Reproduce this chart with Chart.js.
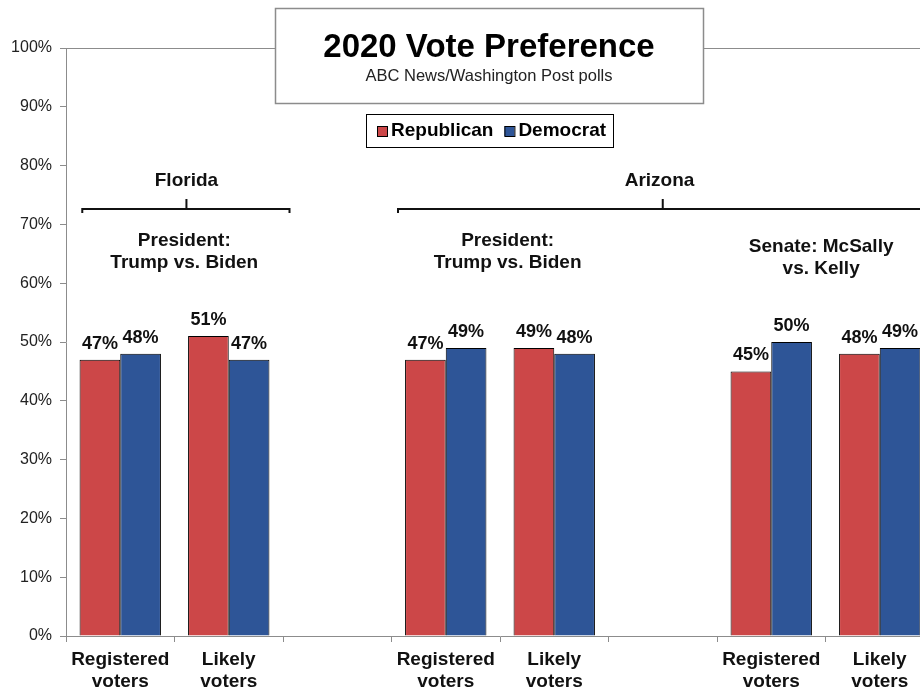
<!DOCTYPE html>
<html>
<head>
<meta charset="utf-8">
<script src="https://cdn.jsdelivr.net/npm/chart.js@4"></script>
<style>
  html, body { margin: 0; padding: 0; overflow: hidden; background: #fff; }
  #wrap { width: 950px; height: 691px; }
</style>
</head>
<body>
<div id="wrap"><canvas id="chart"></canvas></div>
<script>
const categories = [['Registered', 'voters'], ['Likely', 'voters'], '', ['Registered', 'voters'], ['Likely', 'voters'], '', ['Registered', 'voters'], ['Likely', 'voters']];
const republican = [47, 51, null, 47, 49, null, 45, 48];
const democrat = [48, 47, null, 49, 48, null, 50, 49];
const seriesNames = ['Republican', 'Democrat'];
const seriesColors = ['#CC4748', '#2E5597'];

const FONT = '"Liberation Sans", Arial, sans-serif';

// group labels: [category position, y value, lines]
const groupTexts = [
  [0.61, 77.5, ['Florida']],
  [4.97, 77.5, ['Arizona']],
  [0.59, 67.2, ['President:', 'Trump vs. Biden']],
  [3.57, 67.2, ['President:', 'Trump vs. Biden']],
  [6.46, 66.2, ['Senate: McSally', 'vs. Kelly']]
];
// brackets: [from, to, middle, y value]
const brackets = [
  [-0.35, 1.56, 0.61, 72.6],
  [2.56, 8.5, 5.0, 72.6]
];

const extras = {
  id: 'extras',
  afterDatasetsDraw(chart) {
    const ctx = chart.ctx;
    const xs = chart.scales.x, ys = chart.scales.y;
    const area = chart.chartArea;
    ctx.save();

    // top border of plot
    ctx.strokeStyle = '#8c8c8c';
    ctx.lineWidth = 1;
    ctx.beginPath();
    ctx.moveTo(area.left, Math.round(area.top) + 0.5);
    ctx.lineTo(area.right, Math.round(area.top) + 0.5);
    ctx.stroke();

    // value labels
    ctx.fillStyle = '#111';
    ctx.font = 'bold 18px ' + FONT;
    ctx.textAlign = 'center';
    ctx.textBaseline = 'bottom';
    chart.data.datasets.forEach((ds, i) => {
      chart.getDatasetMeta(i).data.forEach((bar, j) => {
        if (ds.data[j] == null) return;
        ctx.fillText(ds.data[j] + '%', bar.x, bar.y - 7);
      });
    });

    // group texts
    ctx.font = 'bold 19px ' + FONT;
    ctx.textBaseline = 'middle';
    groupTexts.forEach(([pos, yv, lines]) => {
      const x = xs.getPixelForValue(pos);
      const y = ys.getPixelForValue(yv);
      lines.forEach((t, k) => ctx.fillText(t, x, y + k * 22));
    });

    // brackets
    ctx.strokeStyle = '#111';
    ctx.lineWidth = 2;
    brackets.forEach(([a, b, m, yv]) => {
      const x1 = xs.getPixelForValue(a), x2 = xs.getPixelForValue(b), xm = xs.getPixelForValue(m);
      const y = Math.round(ys.getPixelForValue(yv));
      ctx.beginPath();
      ctx.moveTo(x1, y + 4); ctx.lineTo(x1, y); ctx.lineTo(x2, y); ctx.lineTo(x2, y + 4);
      ctx.moveTo(xm, y); ctx.lineTo(xm, y - 10);
      ctx.stroke();
    });

    // title box
    ctx.fillStyle = '#fff';
    ctx.fillRect(275, 8, 428, 95);
    ctx.strokeStyle = '#8c8c8c';
    ctx.lineWidth = 1.5;
    ctx.strokeRect(275.5, 8.5, 428, 95);
    ctx.fillStyle = '#000';
    ctx.textAlign = 'center';
    ctx.font = 'bold 33px ' + FONT;
    ctx.fillText('2020 Vote Preference', 489, 48);
    ctx.font = '16.5px ' + FONT;
    ctx.fillStyle = '#222';
    ctx.fillText('ABC News/Washington Post polls', 489, 76);

    // legend box
    ctx.fillStyle = '#fff';
    ctx.fillRect(366, 114, 247, 33);
    ctx.strokeStyle = '#000';
    ctx.lineWidth = 1;
    ctx.strokeRect(366.5, 114.5, 247, 33);
    ctx.font = 'bold 19px ' + FONT;
    ctx.textAlign = 'left';
    let lx = 377;
    chart.data.datasets.forEach((ds) => {
      ctx.fillStyle = ds.backgroundColor;
      ctx.fillRect(lx, 126, 10, 10);
      ctx.strokeStyle = '#000';
      ctx.strokeRect(lx + 0.5, 126.5, 10, 10);
      ctx.fillStyle = '#000';
      ctx.fillText(ds.label, lx + 14, 131);
      lx += ctx.measureText(ds.label).width + 14 + 11;
    });
    ctx.restore();
  }
};

new Chart(document.getElementById('chart'), {
  type: 'bar',
  data: {
    labels: categories,
    datasets: [{
      label: seriesNames[0],
      data: republican,
      backgroundColor: seriesColors[0],
      borderColor: '#000',
      borderWidth: 1
    }, {
      label: seriesNames[1],
      data: democrat,
      backgroundColor: seriesColors[1],
      borderColor: '#000',
      borderWidth: 1
    }]
  },
  options: {
    responsive: true,
    maintainAspectRatio: false,
    animation: false,
    categoryPercentage: 0.75,
    barPercentage: 1,
    layout: { padding: { left: 0, right: 16, top: 48, bottom: 0 } },
    scales: {
      x: {
        grid: { offset: true, drawOnChartArea: false, tickLength: 6, color: '#8c8c8c' },
        border: { color: '#8c8c8c', width: 1 },
        ticks: {
          color: '#111',
          padding: 6,
          maxRotation: 0,
          autoSkip: false,
          font: { family: FONT, size: 19, weight: 'bold', lineHeight: 1.2 }
        },
        afterFit(scale) { scale.height = 55; }
      },
      y: {
        min: 0,
        max: 100,
        grid: { drawOnChartArea: false, tickLength: 6, color: '#8c8c8c' },
        border: { color: '#8c8c8c', width: 1 },
        ticks: {
          stepSize: 10,
          color: '#222',
          padding: 8,
          font: { family: FONT, size: 16 },
          callback: (v) => v + '%'
        },
        afterFit(scale) { scale.width = 66; }
      }
    },
    plugins: {
      legend: { display: false },
      tooltip: { enabled: false }
    }
  },
  plugins: [extras]
});
</script>
</body>
</html>
